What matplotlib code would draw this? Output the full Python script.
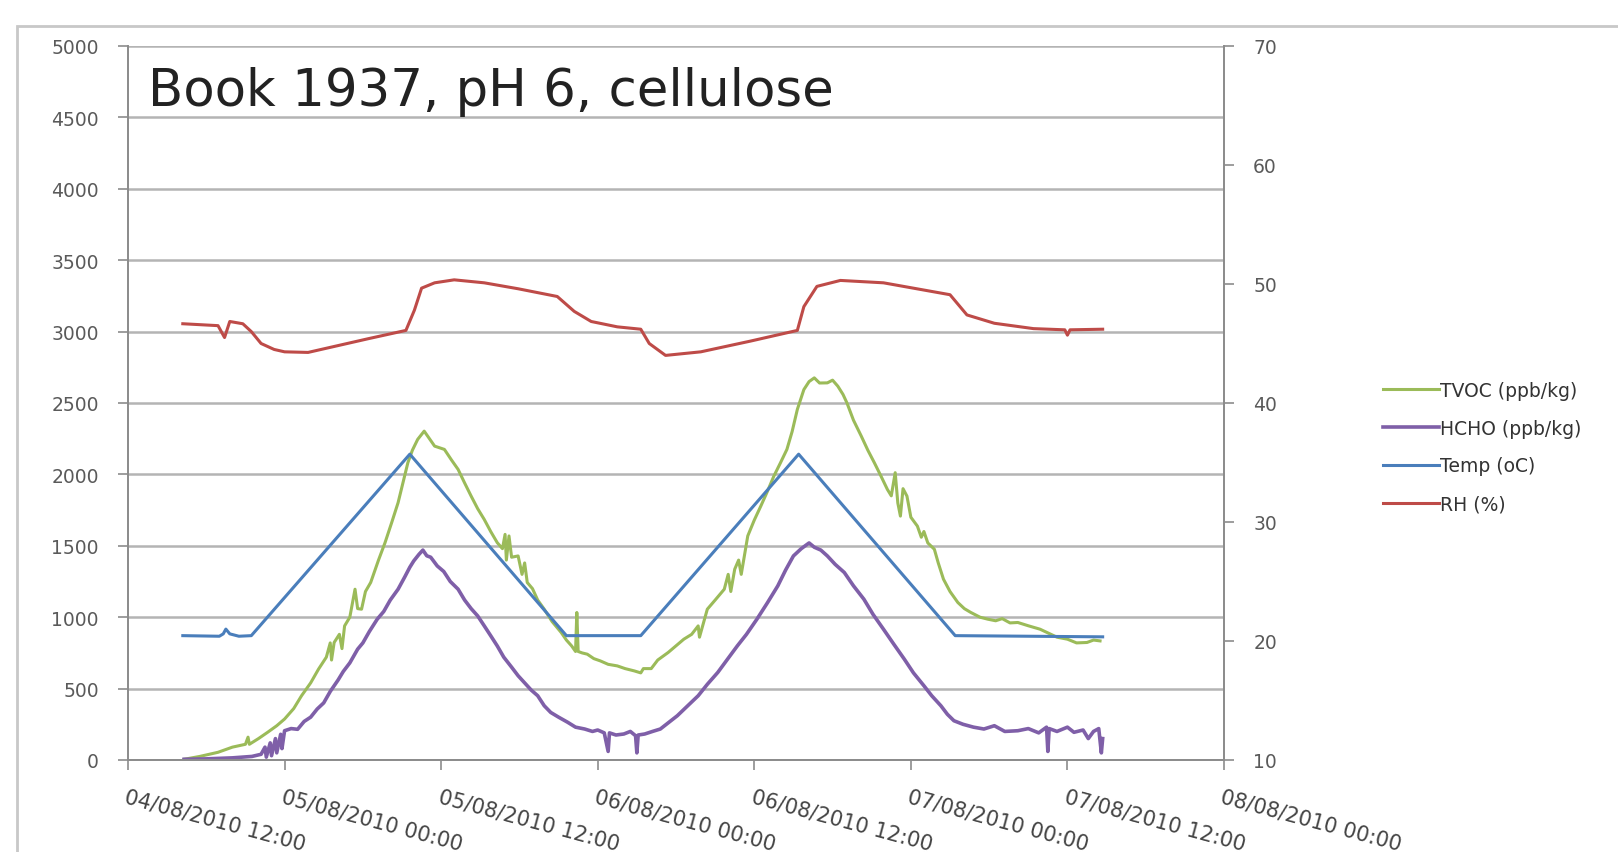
import matplotlib
matplotlib.use("Agg")
import matplotlib.pyplot as plt
import matplotlib.dates as mdates
from matplotlib.patches import Rectangle
import pandas as pd

START = pd.Timestamp("2010-08-04 12:00")

# hours after 04/08/2010 12:00, value
tvoc_h = [4.3, 5.5, 6.9, 8.0, 9.0, 9.2, 9.3, 10.0, 10.7, 11.4, 12.0, 12.7, 13.3, 14.0, 14.6,
          15.2, 15.5, 15.6, 15.8, 16.2, 16.4, 16.6, 17.0, 17.4, 17.6, 17.9, 18.2, 18.6, 19.2,
          19.7, 20.2, 20.7, 21.1, 21.45, 21.8, 22.2, 22.7, 23.1, 23.5, 24.25, 24.8, 25.3,
          25.8, 26.3, 26.8, 27.3, 27.8, 28.3, 28.7, 28.9, 29.0, 29.2, 29.4, 29.9, 30.2, 30.4,
          30.6, 31.0, 31.4, 31.9, 32.5, 33.2, 33.6, 34.0, 34.3, 34.4, 34.5, 34.8, 35.2, 35.7,
          36.2, 36.8, 37.5, 38.1, 38.8, 39.3, 39.5, 40.1, 40.6, 41.4, 42.0, 42.6, 43.2, 43.7,
          43.8, 44.4, 45.0, 45.7, 46.0, 46.2, 46.5, 46.8, 47.0, 47.5, 48.0, 48.5, 49.0, 49.5,
          50.0, 50.5, 50.9, 51.3, 51.8, 52.2, 52.6, 53.0, 53.6, 54.0, 54.4, 54.8, 55.1, 55.6,
          56.2, 56.7, 57.2, 57.7, 58.2, 58.5, 58.8, 59.0, 59.2, 59.4, 59.7, 60.0, 60.5, 60.8,
          61.0, 61.3, 61.8, 62.1, 62.5, 63.0, 63.6, 64.1, 64.6, 65.3, 65.9, 66.5, 67.0, 67.6,
          68.2, 69.0, 69.9, 70.5, 71.2, 72.0, 72.7, 73.5, 74.0, 74.5]
tvoc_v = [5, 25, 54, 90, 110, 160, 110, 150, 194, 240, 287, 360, 450, 540, 636,
          720, 820, 700, 823, 880, 780, 939, 1000, 1196, 1060, 1056, 1180, 1243, 1400,
          1522, 1660, 1802, 1950, 2082, 2170, 2245, 2303, 2250, 2198, 2175, 2100, 2035,
          1940, 1848, 1760, 1685, 1600, 1522, 1480, 1580, 1400, 1569, 1420, 1429, 1300, 1380,
          1243, 1200, 1120, 1056, 970, 893, 840, 799, 760, 1033, 760, 750, 741, 710,
          694, 670, 659, 640, 624, 610, 640, 640, 700, 753, 800, 846, 880, 939,
          860, 1056, 1120, 1196, 1300, 1180, 1336, 1400, 1300, 1569, 1680, 1778, 1880, 1988,
          2080, 2175, 2300, 2455, 2594, 2650, 2676, 2640, 2641, 2660, 2618, 2560, 2501, 2380,
          2268, 2170, 2082, 1990, 1895, 1850, 2012, 1800, 1708, 1900, 1848, 1700, 1638, 1560,
          1600, 1520, 1476, 1380, 1266, 1180, 1103, 1060, 1033, 1000, 986, 975, 990, 960,
          963, 940, 916, 890, 860, 846, 820, 823, 840, 834]

hcho_h = [4.3, 6.0, 8.0, 9.5, 10.2, 10.5, 10.6, 10.9, 11.0, 11.3, 11.4, 11.7, 11.8, 12.0,
          12.5, 13.0, 13.5, 14.0, 14.5, 15.0, 15.5, 16.1, 16.5, 17.0, 17.6, 18.0, 18.5, 19.1,
          19.6, 20.1, 20.7, 21.2, 21.6, 21.9, 22.3, 22.6, 22.9, 23.2, 23.7, 24.2, 24.7, 25.3,
          25.8, 26.3, 26.8, 27.3, 27.8, 28.3, 28.8, 29.4, 29.9, 30.4, 30.9, 31.4, 31.9, 32.4,
          33.0, 33.7, 34.3, 35.0, 35.6, 36.0, 36.5, 36.8, 36.9, 37.4, 38.0, 38.5, 38.9, 39.0,
          39.1, 39.6, 40.2, 40.8, 41.4, 42.1, 42.9, 43.7, 44.4, 45.2, 45.9, 46.7, 47.4, 48.2,
          49.0, 49.8, 50.4, 51.0, 51.6, 52.2, 52.6, 53.1, 53.6, 54.2, 54.9, 55.6, 56.4, 57.1,
          57.9, 58.7, 59.5, 60.2, 61.0, 61.6, 62.3, 62.8, 63.3, 64.0, 64.8, 65.6, 66.4, 67.2,
          68.2, 69.0, 69.8, 70.4, 70.5, 70.6, 71.2, 72.0, 72.5, 73.2, 73.6, 74.0, 74.4, 74.6,
          74.7]
hcho_v = [5, 8, 15, 25, 40, 90, 20, 120, 30, 150, 50, 180, 80, 205,
          220, 215, 270, 300, 357, 400, 480, 560, 620, 680, 776, 820, 900, 986,
          1040, 1120, 1196, 1280, 1350, 1394, 1440, 1470, 1430, 1420, 1359, 1320, 1250, 1196,
          1120, 1060, 1009, 940, 870, 799, 720, 650, 590, 540, 490, 450, 380, 333,
          300, 264, 230, 217, 200, 210, 190, 60, 190, 175, 182, 200, 170, 50,
          175, 182, 200, 217, 260, 310, 380, 450, 530, 613, 700, 799, 880, 986,
          1100, 1219, 1330, 1429, 1480, 1520, 1490, 1470, 1429, 1370, 1313, 1220, 1126, 1020,
          916, 810, 706, 610, 520, 450, 380, 320, 275, 250, 230, 217, 240, 200,
          205, 220, 190, 230, 60, 220, 200, 230, 194, 210, 150, 200, 220, 50,
          150]

temp_h = [4.2, 7.0, 7.3, 7.5, 7.8, 8.5, 9.45, 21.6, 33.6, 39.3, 51.4, 63.4, 74.7]
temp_v = [20.45, 20.4, 20.6, 21.0, 20.6, 20.4, 20.45, 35.7, 20.45, 20.45, 35.7, 20.45, 20.35]

rh_h = [4.2, 6.9, 7.4, 7.8, 8.8, 9.45, 10.2, 11.2, 12.0, 13.8, 15.8, 18.4, 21.3, 21.95,
        22.5, 23.5, 25.0, 27.3, 29.9, 32.9, 34.2, 35.5, 37.5, 39.3, 39.95, 41.2, 43.9, 47.7,
        51.3, 51.8, 52.8, 54.6, 57.9, 63.0, 64.3, 66.4, 69.4, 71.8, 72.0, 72.2, 74.7]
rh_v = [46.66, 46.5, 45.5, 46.85, 46.66, 46.0, 45.0, 44.5, 44.3, 44.25, 44.75, 45.4, 46.1, 47.8,
        49.65, 50.1, 50.35, 50.1, 49.6, 48.95, 47.7, 46.85, 46.4, 46.2, 45.0, 44.0, 44.3, 45.2,
        46.1, 48.1, 49.8, 50.3, 50.1, 49.1, 47.4, 46.7, 46.25, 46.15, 45.7, 46.15, 46.2]

left_ticks = list(range(0, 5001, 500))
right_ticks = list(range(10, 71, 10))


def to_time(hours):
    return START + pd.to_timedelta(hours, unit="h")


fig = plt.figure(figsize=(16.18, 8.53), dpi=100)
fig.patches.append(Rectangle((17 / 1618, -0.1), 1.1, 0.1 + (853 - 27) / 853,
                             transform=fig.transFigure, fill=False,
                             edgecolor="#c8c8c8", linewidth=2))

ax = fig.add_axes([128 / 1618, (853 - 761) / 853, (1224 - 128) / 1618, (761 - 47) / 853])
ax2 = ax.twinx()

grey = "#8c8c8c"
l1, = ax.plot(to_time(tvoc_h), tvoc_v, color="#9bbb59", lw=2.2, label="TVOC (ppb/kg)")
l2, = ax.plot(to_time(hcho_h), hcho_v, color="#7f5fa8", lw=2.6, label="HCHO (ppb/kg)")
l3, = ax2.plot(to_time(temp_h), temp_v, color="#4a7ebb", lw=2.2, label="Temp (oC)")
l4, = ax2.plot(to_time(rh_h), rh_v, color="#be4b48", lw=2.2, label="RH (%)")

ax.set_ylim(0, 5000)
ax.set_yticks(left_ticks)
ax2.set_ylim(10, 70)
ax2.set_yticks(right_ticks)
ax.set_xlim(START, START + pd.Timedelta(hours=84))
ax.xaxis.set_major_locator(mdates.HourLocator(byhour=[0, 12]))
ax.xaxis.set_major_formatter(mdates.DateFormatter("%d/%m/%Y %H:%M"))

ax.grid(axis="y", color="#b4b4b4", linewidth=1.8)
ax.set_axisbelow(True)
for a in (ax, ax2):
    for s in a.spines.values():
        s.set_color(grey)
        s.set_linewidth(1.3)
    a.spines["top"].set_visible(False)
ax.tick_params(axis="both", colors=grey, labelcolor="#5a5a5a", labelsize=13.5,
               length=7, width=1.2)
ax2.tick_params(axis="y", colors=grey, labelcolor="#5a5a5a", labelsize=13.5,
                length=7, width=1.2, pad=14)
ax.tick_params(axis="y", pad=14)
ax.tick_params(axis="x", pad=12)
for lab in ax.get_xticklabels():
    lab.set_rotation(-15)
    lab.set_ha("left")
    lab.set_va("top")
    lab.set_rotation_mode("anchor")
    lab.set_fontsize(15)
    lab.set_color("#444444")

ax.text(0.018, 0.972, "Book 1937, pH 6, cellulose", transform=ax.transAxes,
        fontsize=37, color="#222222", va="top", ha="left")

fig.legend(handles=[l1, l2, l3, l4], loc="center left",
           bbox_to_anchor=(1366 / 1618, (853 - 448) / 853), frameon=False,
           fontsize=13.5, handlelength=3.0, handletextpad=0.05, labelspacing=1.0,
           labelcolor="#333333")

fig.savefig("out.png", dpi=100)
